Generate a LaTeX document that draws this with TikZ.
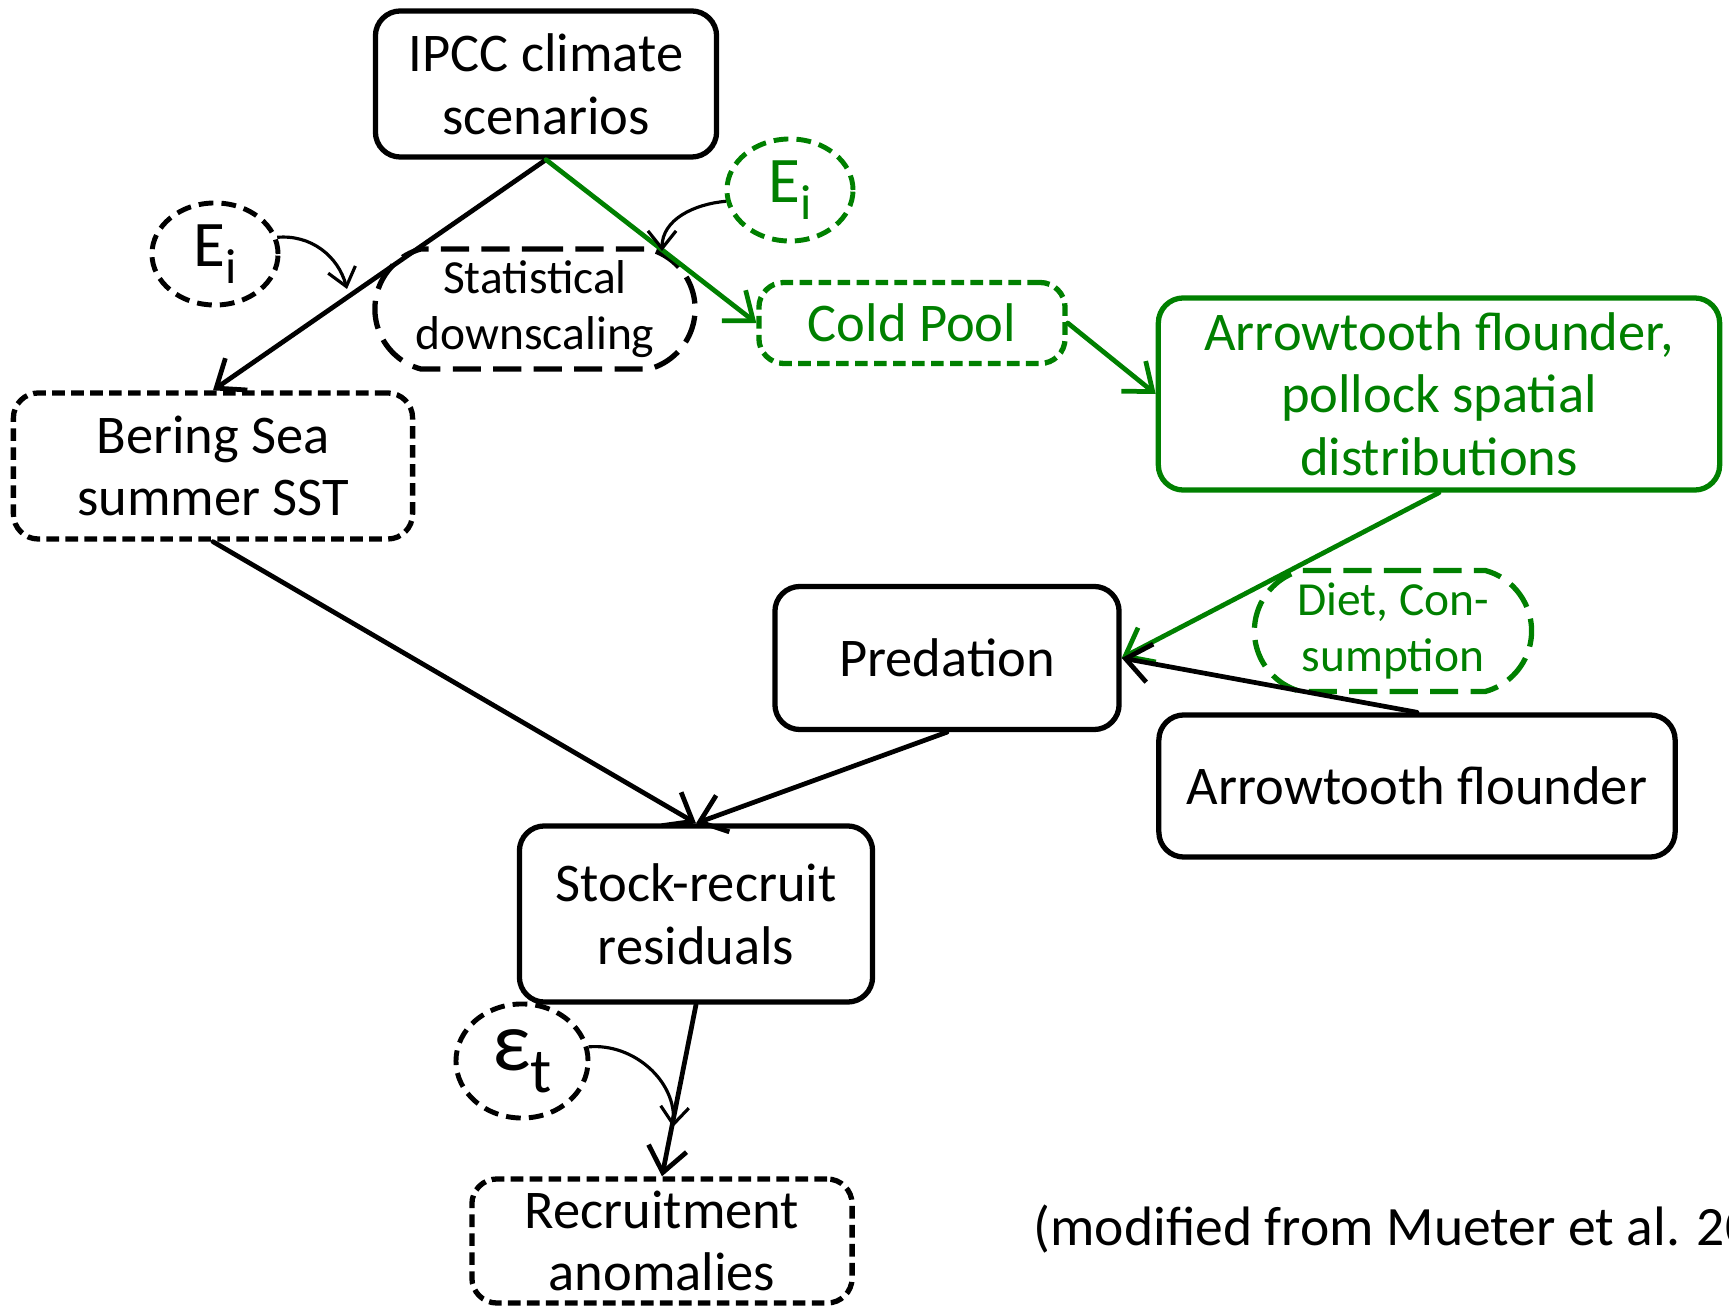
\documentclass[tikz,border=0pt]{standalone}
\usepackage{fontspec}
\setmainfont{Carlito}
\usetikzlibrary{positioning, shapes.geometric, shapes.misc, arrows.meta}
\definecolor{leafgreen}{RGB}{0,128,0}
\newcommand{\lowsub}[1]{\raisebox{-0.55ex}{\fontsize{14}{14}\selectfont #1}}
\tikzset{
	box/.style={draw, line width=1.5pt, rounded corners=0.25cm, align=center, inner sep=0pt, font=\fontsize{15.5}{17.8}\selectfont},
	finedash/.style={dash pattern=on 3.6pt off 1.8pt},
	longdash/.style={dash pattern=on 8pt off 3.5pt},
	errnode/.style={draw, ellipse, line width=1.4pt, dash pattern=on 4.2pt off 2.3pt, inner sep=0pt, font=\fontsize{18.5}{20}\selectfont},
	oval/.style={draw, rounded rectangle, rounded rectangle arc length=150, line width=1.5pt, longdash, align=center, inner sep=0pt, font=\fontsize{13.5}{15.8}\selectfont},
	link/.style={line width=1.35pt, -{Straight Barb[length=7pt,width=11pt]}, line cap=round},
	curl/.style={line width=0.9pt, -{Straight Barb[length=5pt,width=8pt]}},
}
\begin{document}
\begin{tikzpicture}
		[x=0.01cm, y=0.01cm]
		\useasboundingbox (0,0) rectangle (1729,1311);
		\node (ipcc) [box, minimum width=3.41cm, minimum height=1.46cm] at (546,1227) {IPCC climate\\scenarios};
		\node (eiL) [errnode, minimum width=1.26cm, minimum height=1.02cm] at (215,1057) {E\lowsub{i}};
		\node (stat) [oval, minimum width=3.2cm, minimum height=1.2cm] at (535,1002) {Statistical\\downscaling};
		\node (eiG) [errnode, leafgreen, minimum width=1.26cm, minimum height=1.02cm] at (790,1121) {E\lowsub{i}};
		\node (cold) [box, finedash, leafgreen, minimum width=3.06cm, minimum height=0.81cm] at (912,988) {Cold Pool};
		\node (spatial) [box, leafgreen, minimum width=5.61cm, minimum height=1.92cm] at (1439,917) {Arrowtooth flounder,\\pollock spatial\\distributions};
		\node (sst) [box, finedash, minimum width=3.99cm, minimum height=1.46cm] at (213,845) {Bering Sea\\summer SST};
		\node (pred) [box, minimum width=3.44cm, minimum height=1.43cm] at (947,653) {Predation};
		\node (diet) [oval, leafgreen, minimum width=2.77cm, minimum height=1.21cm] at (1393,680) {Diet, Con-\\sumption};
		\node (flounder) [box, minimum width=5.16cm, minimum height=1.42cm] at (1417,525) {Arrowtooth flounder};
		\node (stock) [box, minimum width=3.53cm, minimum height=1.76cm] at (696,397) {Stock-recruit\\residuals};
		\node (eps) [errnode, minimum width=1.32cm, minimum height=1.14cm, font=\fontsize{24}{26}\selectfont] at (522,250) {ε\lowsub{\fontsize{18}{18}\selectfont t}};
		\node (recruit) [box, finedash, minimum width=3.8cm, minimum height=1.24cm] at (662,70) {Recruitment\\anomalies};
		\node[anchor=base west, inner sep=0pt, font=\fontsize{15.8}{18}\selectfont] (note) at (1033,66) {(modified from Mueter et al. 20};

		\coordinate (eiLend) at (347,1022);
		\coordinate (eiGend) at (662,1060);
		\coordinate (epsend) at (673,184);

		\draw[link] (ipcc.south) -- (sst.north);
		\draw[link, leafgreen] (ipcc.south) -- (cold.west);
		\draw[link, leafgreen] (cold.east) -- (spatial.west);
		\draw[link, leafgreen] (spatial.south) -- (pred.east);
		\draw[link] (flounder.north) -- (pred.east);
		\draw[link] (sst.south) -- (stock.north);
		\draw[link] (pred.south) -- (stock.north);
		\draw[link] (stock.south) -- (recruit.north);
		\draw[curl] (eiL.15) to[out=5, in=105] (eiLend);
		\draw[curl] (eiG.190) to[out=185, in=90] (eiGend);
		\draw[curl] (eps.12) to[out=5, in=85] (epsend);
	\end{tikzpicture}
\end{document}
